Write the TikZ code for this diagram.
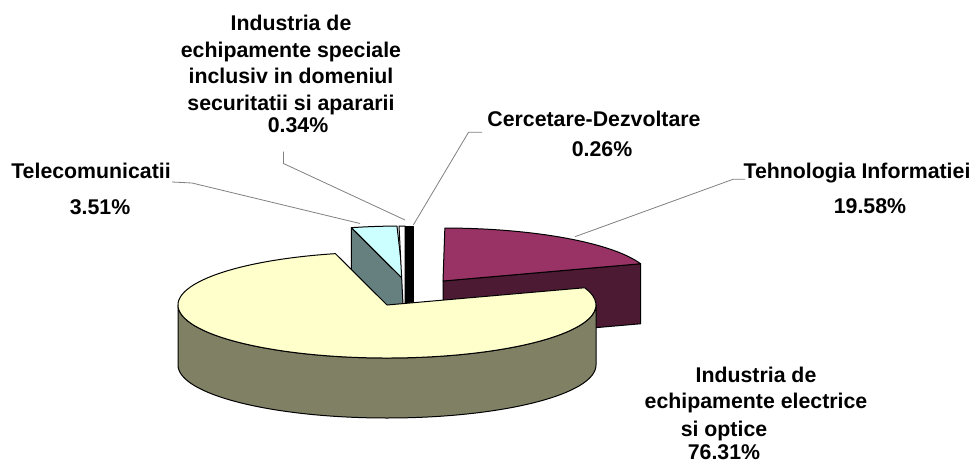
\documentclass[tikz,border=0pt]{standalone}
\usepackage{fontspec}
\setmainfont{Liberation Sans}
\usepackage{xcolor}
\usetikzlibrary{calc}
\usetikzlibrary{positioning}

\definecolor{ieTop}{RGB}{255,255,204}
\definecolor{ieWall}{RGB}{128,128,100}
\definecolor{tiTop}{RGB}{153,51,102}
\definecolor{tiWall}{RGB}{77,26,51}
\definecolor{tcTop}{RGB}{204,255,255}
\definecolor{tcWall}{RGB}{102,128,128}

\begin{document}
\begin{tikzpicture}[x=1pt, y=1pt,
		face/.style={draw=black, line width=1pt, line join=round},
		leader/.style={draw=gray, line width=0.8pt},
		lbl/.style={font=\fontsize{21.3}{26.4}\selectfont\bfseries, inner sep=0pt, align=center}]
		\def\RA{209}
		\def\RB{53}
		\def\DEPTH{60}
		\useasboundingbox (0,0) rectangle (975,-466);
		\coordinate (ti) at (443,-281);
		\coordinate (tc) at (403,-279);
		\coordinate (ie) at (387,-305);
		% Tehnologia Informatiei (pulled out)
		\filldraw[face, fill=tiWall] (ti) -- ++(19:{\RA} and {\RB}) -- ++(0,-\DEPTH) -- ($(ti)+(0,-\DEPTH)$) -- cycle;
		\filldraw[face, fill=tiTop] (ti) -- ++(19:{\RA} and {\RB}) arc[start angle=19, end angle=89.49, x radius=\RA, y radius=\RB] -- cycle;
		% Telecomunicatii
		\filldraw[face, fill=tcWall] (tc) -- ++(104.29:{\RA} and {\RB}) -- ++(0,-\DEPTH) -- ($(tc)+(0,-\DEPTH)$) -- cycle;
		\filldraw[face, fill=tcTop] (tc) -- ++(91.65:{\RA} and {\RB}) arc[start angle=91.65, end angle=104.29, x radius=\RA, y radius=\RB] -- cycle;
		% the two thin ones
		\filldraw[face, fill=white] (399,-226) -- (405,-226) -- (405,-304) -- (403,-304) -- cycle;
		\filldraw[face, fill=black] (405,-226) rectangle (413,-306);
		% Industria de echipamente electrice si optice
		\filldraw[face, fill=ieWall] ($(ie)+(-\RA,0)$) arc[start angle=180, end angle=360, x radius=\RA, y radius=\RB] -- ++(0,-\DEPTH) arc[start angle=0, end angle=-180, x radius=\RA, y radius=\RB] -- cycle;
		\filldraw[face, fill=ieTop] (ie) -- ++(104.29:{\RA} and {\RB}) arc[start angle=104.29, end angle=379, x radius=\RA, y radius=\RB] -- cycle;

		% labels
		\node[lbl] (tcName) at (91,-170.5) {Telecomunicatii};
		\node[lbl] (tcValue) at (100,-207.5) {3.51\%};
		\node[lbl] (isName) at (291,-65) {Industria de\\echipamente speciale\\inclusiv in domeniul\\securitatii si apararii};
		\node[lbl] (isValue) at (298,-125) {0.34\%};
		\node[lbl] (cdName) at (594,-119) {Cercetare-Dezvoltare};
		\node[lbl] (cdValue) at (602,-148.7) {0.26\%};
		\node[lbl] (tiName) at (857,-173) {Tehnologia Informatiei};
		\node[lbl] (tiValue) at (870,-206) {19.58\%};
		\node[lbl] (ieName) at (756,-390) {Industria de\\echipamente electrice};
		\node[lbl] (ieName2) at (724,-431) {si optice};
		\node[lbl] (ieValue) at (724,-451.7) {76.31\%};

		% leader lines
		\coordinate (tcStart) at (172,-182);
		\coordinate (tcEnd) at (360,-223.5);
		\coordinate (isStart) at (283.5,-151.5);
		\coordinate (isEnd) at (405,-220);
		\coordinate (cdStart) at (482,-132.3);
		\coordinate (cdEnd) at (413.3,-225);
		\coordinate (tiStart) at (745,-179.3);
		\coordinate (tiEnd) at (575,-236.7);
		\draw[leader] (tcStart) -- ++(20,-1) -- (tcEnd);
		\draw[leader] (isStart) -- ++(0,-12) -- (isEnd);
		\draw[leader] (cdStart) -- ++(-13.5,0) -- (cdEnd);
		\draw[leader] (tiStart) -- ++(-12,0) -- (tiEnd);
	\end{tikzpicture}
\end{document}
